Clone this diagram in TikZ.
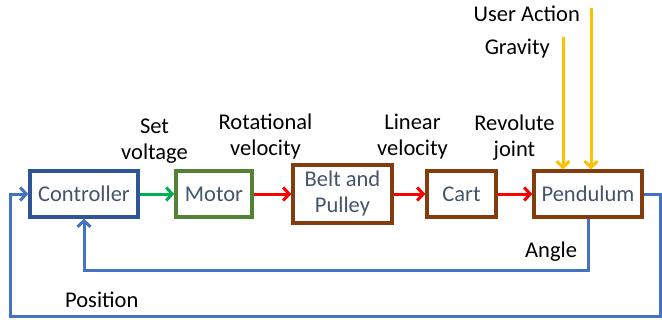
\documentclass[tikz,border=0pt]{standalone}
\usepackage{fontspec}
\setmainfont{Carlito}
\usetikzlibrary{arrows.meta}
\definecolor{boxtext}{HTML}{44546A}
\definecolor{ctrlblue}{HTML}{2F5597}
\definecolor{motorgreen}{HTML}{548235}
\definecolor{brownc}{HTML}{843C0C}
\definecolor{arrgreen}{HTML}{00B050}
\definecolor{arrred}{HTML}{FF0000}
\definecolor{arryellow}{HTML}{FFC000}
\definecolor{fbblue}{HTML}{4472C4}
\begin{document}
\begin{tikzpicture}[x=1pt,y=1pt,
  every node/.style={font=\fontsize{22.5}{26}\selectfont},
  blockbox/.style={draw,line width=3.5pt,inner sep=0pt,text=boxtext,align=center},
  lbl/.style={align=center,text=black,inner sep=0pt},
  conn/.style={line width=3pt,-{Straight Barb[length=6pt,width=13pt]}},
  fb/.style={line width=3pt,draw=fbblue}]
\useasboundingbox (0,0) rectangle (662,322);
\node[blockbox,draw=ctrlblue,minimum width=108pt,minimum height=46pt] (ctrl) at (84,128) {Controller};
\node[blockbox,draw=motorgreen,minimum width=76pt,minimum height=46pt] (motor) at (214,128) {Motor};
\node[blockbox,draw=brownc,minimum width=99pt,minimum height=58pt] (belt) at (342.5,128) {Belt and\\Pulley};
\node[blockbox,draw=brownc,minimum width=69pt,minimum height=46pt] (cart) at (461.5,128) {Cart};
\node[blockbox,draw=brownc,minimum width=108pt,minimum height=46pt] (pend) at (588,128) {Pendulum};
\draw[conn,draw=arrgreen] (ctrl) -- (motor);
\draw[conn,draw=arrred] (motor) -- (belt);
\draw[conn,draw=arrred] (belt) -- (cart);
\draw[conn,draw=arrred] (cart) -- (pend);
\coordinate (gtop) at (563,285);
\coordinate (utop) at (591,314);
\draw[conn,draw=arryellow] (gtop) -- (gtop |- pend.north);
\draw[conn,draw=arryellow] (utop) -- (utop |- pend.north);
\coordinate (r1) at (660,128);
\coordinate (r2) at (660,6);
\coordinate (r3) at (10,6);
\coordinate (r4) at (10,128);
\draw[fb,conn] (pend.east) -- (r1) -- (r2) -- (r3) -- (r4) -- (ctrl.west);
\coordinate (a1) at (588,52);
\coordinate (a2) at (84,52);
\draw[fb,conn] (pend.south) -- (a1) -- (a2) -- (ctrl.south);
\node[lbl,anchor=base] (lsv) at (154.5,162) {Set\\voltage};
\node[lbl,anchor=base] (lrv) at (265.5,167) {Rotational\\velocity};
\node[lbl,anchor=base] (llv) at (412.5,167) {Linear\\velocity};
\node[lbl,anchor=base] (lrj) at (514.5,165) {Revolute\\joint};
\node[lbl,anchor=base east] (lua) at (580,300) {User Action};
\node[lbl,anchor=base east] (lgr) at (550,267) {Gravity};
\node[lbl,anchor=base west] (lan) at (525,65) {Angle};
\node[lbl,anchor=base west] (lpo) at (65,15) {Position};
\end{tikzpicture}
\end{document}
